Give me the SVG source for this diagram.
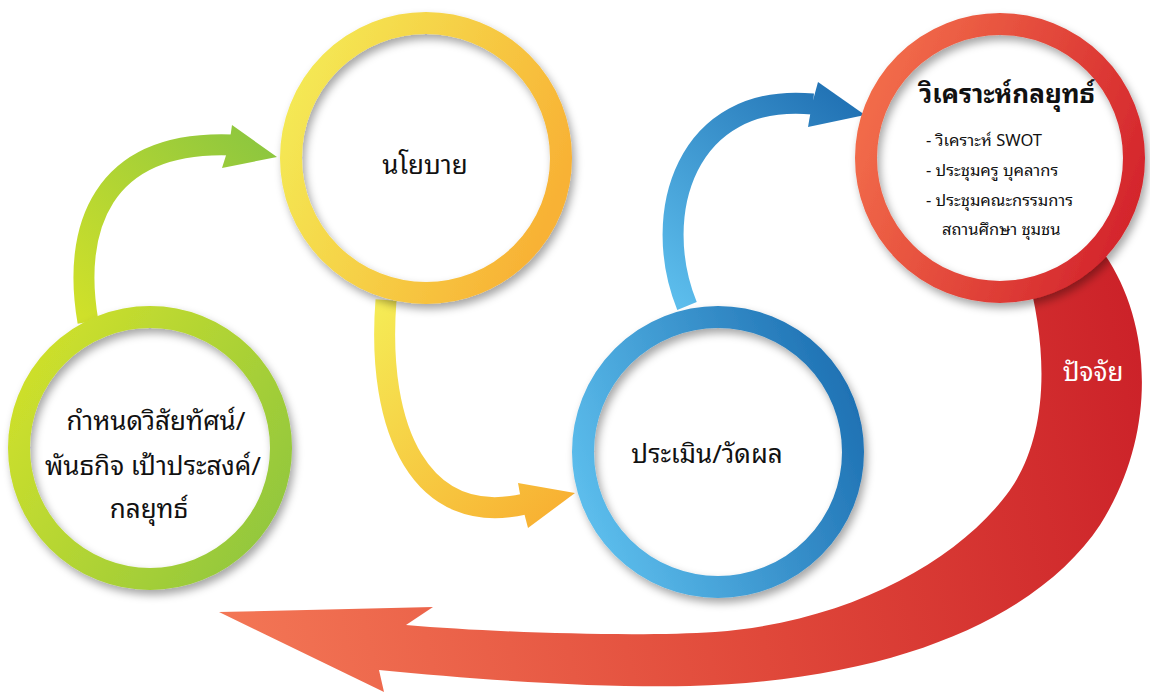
<svg xmlns="http://www.w3.org/2000/svg" width="1150" height="694" viewBox="0 0 1150 694">
<defs>
<style>
.disc{fill:#ffffff}
.ring{fill:none;stroke-width:22;filter:url(#sh)}
.t{font-family:'Noto Sans Thai Looped',Loma,Garuda,Tahoma,'Noto Sans Thai','Noto Sans',sans-serif;fill:#111;text-anchor:middle}
.big{font-size:26px}
.small{font-size:16.5px;text-anchor:start}
.shaft{fill:none;stroke-width:21}
</style>
<filter id="sh" x="-20%" y="-20%" width="140%" height="140%">
<feDropShadow dx="3" dy="5" stdDeviation="4" flood-color="#000" flood-opacity="0.35"/>
</filter>
<linearGradient id="gG" x1="0" y1="0.2" x2="1" y2="0.8"><stop offset="0" stop-color="#cfe02b"/><stop offset="1" stop-color="#92c73d"/></linearGradient>
<linearGradient id="gY" x1="0" y1="0.2" x2="1" y2="0.6"><stop offset="0" stop-color="#f4ea55"/><stop offset="1" stop-color="#f8b235"/></linearGradient>
<linearGradient id="gB" x1="0" y1="0.7" x2="1" y2="0.3"><stop offset="0" stop-color="#5cbdec"/><stop offset="1" stop-color="#1f72b4"/></linearGradient>
<linearGradient id="gR" x1="0" y1="0.3" x2="1" y2="0.7"><stop offset="0" stop-color="#f26c4a"/><stop offset="1" stop-color="#d4252c"/></linearGradient>
<linearGradient id="aG" gradientUnits="userSpaceOnUse" x1="87" y1="320" x2="277" y2="150"><stop offset="0" stop-color="#cfe02a"/><stop offset="1" stop-color="#8cc63f"/></linearGradient>
<linearGradient id="aY" gradientUnits="userSpaceOnUse" x1="386" y1="300" x2="575" y2="500"><stop offset="0" stop-color="#f5eb55"/><stop offset="1" stop-color="#f8b032"/></linearGradient>
<linearGradient id="aB" gradientUnits="userSpaceOnUse" x1="684" y1="308" x2="865" y2="100"><stop offset="0" stop-color="#5cbdec"/><stop offset="1" stop-color="#1f6fb2"/></linearGradient>
<linearGradient id="aR" gradientUnits="userSpaceOnUse" x1="220" y1="600" x2="1150" y2="400"><stop offset="0" stop-color="#f37655"/><stop offset="0.55" stop-color="#e0483a"/><stop offset="1" stop-color="#cc2229"/></linearGradient>
</defs>

<g id="connectors">
<path id="arrow-red" fill="url(#aR)" d="M 1105 255 C 1150 320, 1160 430, 1100 525 C 1040 615, 900 680, 690 686 C 600 688, 480 680, 379 670 L 384 692 L 219 612 L 433 607 L 406 625 C 500 633, 640 637, 715 632 C 850 622, 960 560, 1010 490 C 1045 440, 1052 360, 1025 265 Z"/>
<g id="arrow-green">
<path class="shaft" stroke="url(#aG)" d="M 88 322 C 72 230, 100 140, 232 145"/>
<polygon fill="url(#aG)" points="232,125 277,157 222,168 229,146"/>
</g>
<g id="arrow-yellow">
<path class="shaft" stroke="url(#aY)" d="M 386 300 C 376 430, 421 528, 525 504"/>
<polygon fill="url(#aY)" points="518,483 575,493 528,528 522,505"/>
</g>
<g id="arrow-blue">
<path class="shaft" stroke="url(#aB)" d="M 687 306 C 650 215, 685 92, 813 104"/>
<polygon fill="url(#aB)" points="818,82 865,115 808,127 812,104"/>
</g>
</g>

<g id="node-vision">
<circle class="disc" cx="150" cy="448" r="140"/>
<circle class="ring" stroke="url(#gG)" cx="150" cy="448" r="131"/>
<text class="t big" x="156" y="430">กำหนดวิสัยทัศน์/</text>
<text class="t big" x="153" y="475">พันธกิจ เป้าประสงค์/</text>
<text class="t big" x="149" y="518">กลยุทธ์</text>
</g>

<g id="node-policy">
<circle class="disc" cx="426" cy="158" r="144"/>
<circle class="ring" stroke="url(#gY)" cx="426" cy="158" r="135"/>
<text class="t big" x="425" y="174">นโยบาย</text>
</g>

<g id="node-evaluate">
<circle class="disc" cx="718" cy="452" r="144"/>
<circle class="ring" stroke="url(#gB)" cx="718" cy="452" r="135"/>
<text class="t big" x="707" y="463">ประเมิน/วัดผล</text>
</g>

<g id="node-analyze">
<circle class="disc" cx="1000" cy="158" r="143"/>
<circle class="ring" stroke="url(#gR)" cx="1000" cy="158" r="134"/>
<text class="t big" x="1007" y="103" font-weight="bold">วิเคราะห์กลยุทธ์</text>
<text class="t small" x="926" y="146">- วิเคราะห์ SWOT</text>
<text class="t small" x="926" y="176">- ประชุมครู บุคลากร</text>
<text class="t small" x="926" y="206">- ประชุมคณะกรรมการ</text>
<text class="t small" x="942" y="235">สถานศึกษา ชุมชน</text>
</g>

<g id="label-factor">
<text class="t big" x="1093" y="381" style="fill:#ffffff">ปัจจัย</text>
</g>
</svg>
